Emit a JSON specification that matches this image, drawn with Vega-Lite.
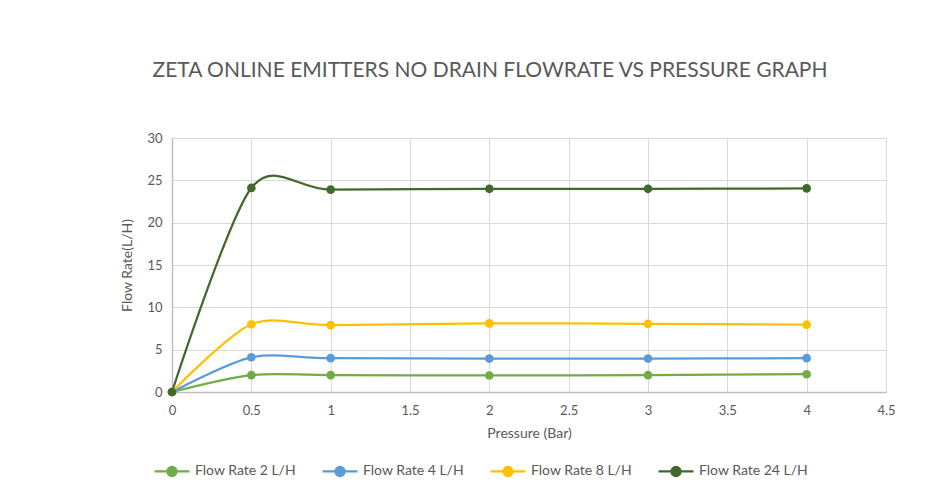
{
  "$schema": "https://vega.github.io/schema/vega-lite/v6.json",
  "width": 714,
  "height": 254,
  "autosize": {"type": "none"},
  "padding": {"left": 172, "top": 138, "right": 47, "bottom": 99},
  "background": "white",
  "title": {
    "text": "ZETA ONLINE EMITTERS NO DRAIN FLOWRATE VS PRESSURE GRAPH",
    "font": "Lato",
    "fontSize": 21,
    "fontWeight": "normal",
    "color": "#595959",
    "anchor": "middle",
    "dx": -39,
    "offset": 51
  },
  "data": {
    "values": [
      {"series": "Flow Rate 2 L/H", "pressure": 0, "flow": 0},
      {"series": "Flow Rate 2 L/H", "pressure": 0.5, "flow": 2.0},
      {"series": "Flow Rate 2 L/H", "pressure": 1, "flow": 2.0},
      {"series": "Flow Rate 2 L/H", "pressure": 2, "flow": 1.95},
      {"series": "Flow Rate 2 L/H", "pressure": 3, "flow": 2.0},
      {"series": "Flow Rate 2 L/H", "pressure": 4, "flow": 2.1},
      {"series": "Flow Rate 4 L/H", "pressure": 0, "flow": 0},
      {"series": "Flow Rate 4 L/H", "pressure": 0.5, "flow": 4.1},
      {"series": "Flow Rate 4 L/H", "pressure": 1, "flow": 4.0},
      {"series": "Flow Rate 4 L/H", "pressure": 2, "flow": 3.95},
      {"series": "Flow Rate 4 L/H", "pressure": 3, "flow": 3.95},
      {"series": "Flow Rate 4 L/H", "pressure": 4, "flow": 4.0},
      {"series": "Flow Rate 8 L/H", "pressure": 0, "flow": 0},
      {"series": "Flow Rate 8 L/H", "pressure": 0.5, "flow": 8.0},
      {"series": "Flow Rate 8 L/H", "pressure": 1, "flow": 7.9},
      {"series": "Flow Rate 8 L/H", "pressure": 2, "flow": 8.1},
      {"series": "Flow Rate 8 L/H", "pressure": 3, "flow": 8.05},
      {"series": "Flow Rate 8 L/H", "pressure": 4, "flow": 7.95},
      {"series": "Flow Rate 24 L/H", "pressure": 0, "flow": 0},
      {"series": "Flow Rate 24 L/H", "pressure": 0.5, "flow": 24.1},
      {"series": "Flow Rate 24 L/H", "pressure": 1, "flow": 23.9},
      {"series": "Flow Rate 24 L/H", "pressure": 2, "flow": 24.0},
      {"series": "Flow Rate 24 L/H", "pressure": 3, "flow": 24.0},
      {"series": "Flow Rate 24 L/H", "pressure": 4, "flow": 24.05}
    ]
  },
  "encoding": {
    "x": {
      "field": "pressure",
      "type": "quantitative",
      "title": "Pressure (Bar)",
      "scale": {"domain": [0, 4.5], "nice": false, "zero": true},
      "axis": {"values": [0, 0.5, 1, 1.5, 2, 2.5, 3, 3.5, 4, 4.5], "format": "~g", "labelFlush": false, "labelPadding": 12}
    },
    "y": {
      "field": "flow",
      "type": "quantitative",
      "title": "Flow Rate(L/H)",
      "scale": {"domain": [0, 30], "nice": false},
      "axis": {"values": [0, 5, 10, 15, 20, 25, 30], "labelFlush": false}
    },
    "color": {
      "field": "series",
      "type": "nominal",
      "scale": {
        "domain": ["Flow Rate 2 L/H", "Flow Rate 4 L/H", "Flow Rate 8 L/H", "Flow Rate 24 L/H"],
        "range": ["#70AD47", "#5B9BD5", "#FFC000", "#43682B"]
      },
      "legend": {"title": null, "orient": "none", "legendX": -19, "legendY": 314}
    }
  },
  "layer": [
    {
      "mark": {"type": "line", "interpolate": "cardinal", "tension": 0.15, "strokeWidth": 2.25}
    },
    {
      "mark": {"type": "point", "filled": true, "size": 75, "opacity": 1}
    }
  ],
  "config": {
    "view": {"stroke": null},
    "font": "Lato",
    "axis": {
      "labelFont": "Lato",
      "labelFontSize": 13,
      "labelColor": "#595959",
      "titleFont": "Lato",
      "titleFontSize": 14,
      "titleFontWeight": "normal",
      "titleColor": "#595959",
      "gridColor": "#d9d9d9",
      "gridWidth": 1,
      "domainColor": "#bfbfbf",
      "domainWidth": 1.5,
      "ticks": false,
      "labelPadding": 10
    },
    "axisX": {"titlePadding": 9},
    "axisY": {"titlePadding": 12},
    "legend": {
      "direction": "horizontal",
      "labelFont": "Lato",
      "labelFontSize": 14,
      "labelColor": "#595959",
      "symbolType": "M-1,0L1,0M-0.26,0A0.26,0.26,0,1,1,0.26,0A0.26,0.26,0,1,1,-0.26,0Z",
      "symbolSize": 1225,
      "symbolStrokeWidth": 2.25,
      "labelOffset": 4,
      "columnPadding": 13,
      "gridAlign": "all"
    }
  }
}
